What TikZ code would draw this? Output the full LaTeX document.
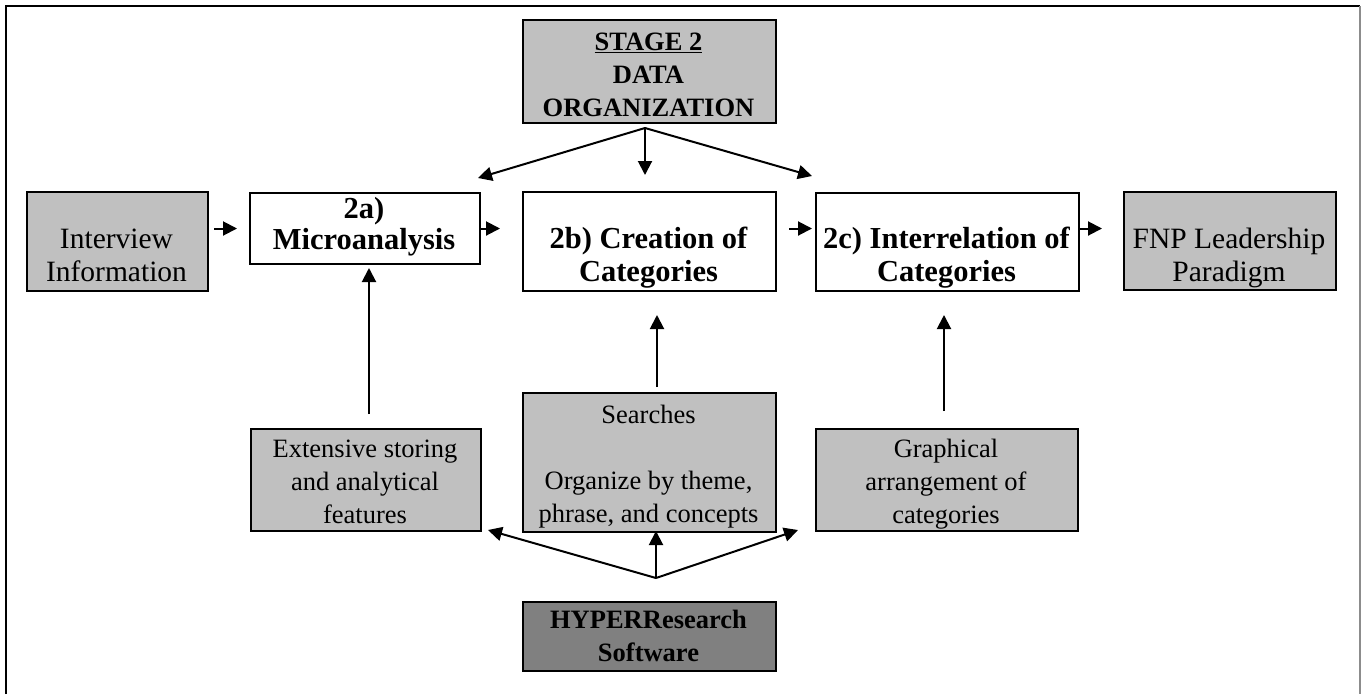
\documentclass[tikz,border=0pt]{standalone}
\usepackage{fontspec}
\setmainfont{Liberation Serif}
\usetikzlibrary{arrows.meta}
\definecolor{boxgray}{HTML}{C0C0C0}
\definecolor{toolgray}{HTML}{808080}
\definecolor{framegray}{HTML}{8C8C8C}
\begin{document}
\begin{tikzpicture}[x=1pt,y=-1pt,
  box/.style={draw, line width=2pt, inner sep=0pt, anchor=north west},
  txt/.style={anchor=north, inner sep=0pt, align=center,
              font=\fontsize{26.5pt}{33pt}\selectfont},
  btxt/.style={txt, font=\fontsize{26.5pt}{33pt}\selectfont\bfseries},
  bigtxt/.style={txt, font=\fontsize{29.5pt}{33.5pt}\selectfont},
  bigbtxt/.style={txt, font=\fontsize{30.5pt}{33.5pt}\selectfont\bfseries},
  arr/.style={-{Triangle[length=14pt,width=14pt]}, line width=2pt}]
\useasboundingbox (0,0) rectangle (1362,694);

% outer frame (bottom edge runs off the page)
\draw[line width=2.2pt] (6,694) -- (6,6) -- (1360,6);
\draw[framegray, line width=2pt] (1360,6) -- (1360,694);

% boxes
\node[box, fill=boxgray, minimum width=253pt, minimum height=103pt] (stage) at (522,19) {};
\node[box, fill=boxgray, minimum width=181pt, minimum height=99pt] (intv) at (26,191) {};
\node[box, fill=white, minimum width=230pt, minimum height=71pt] (micro) at (249,192) {};
\node[box, fill=white, minimum width=253pt, minimum height=99pt] (create) at (522,191) {};
\node[box, fill=white, minimum width=263pt, minimum height=98pt] (inter) at (815,192) {};
\node[box, fill=boxgray, minimum width=212pt, minimum height=98pt] (fnp) at (1123,191) {};
\node[box, fill=boxgray, minimum width=230pt, minimum height=102pt] (ext) at (250,428) {};
\node[box, fill=boxgray, minimum width=253pt, minimum height=139pt] (search) at (522,392) {};
\node[box, fill=boxgray, minimum width=262pt, minimum height=102pt] (graph) at (815,428) {};
\node[box, fill=toolgray, minimum width=253pt, minimum height=69pt] (hyper) at (522,601) {};

% texts (node top = first baseline minus the strut height)
\node[btxt] (stagetxt) at (648.5,26.9) {\strut\underline{STAGE 2}\\\strut DATA\\\strut ORGANIZATION};
\node[bigtxt] (intvtxt) at (116.5,224.55) {\strut Interview\\\strut Information};
\node[bigbtxt, font=\fontsize{30.5pt}{31pt}\selectfont\bfseries] (microtxt) at (364,196.3) {\strut 2a)\\\strut Microanalysis};
\node[bigbtxt] (createtxt) at (648.5,224.55) {\strut 2b) Creation of\\\strut Categories};
\node[bigbtxt] (intertxt) at (946.5,224.55) {\strut 2c) Interrelation of\\\strut Categories};
\node[bigtxt] (fnptxt) at (1229,224.55) {\strut FNP Leadership\\\strut Paradigm};
\node[txt] (exttxt) at (365,433.9) {\strut Extensive storing\\\strut and analytical\\\strut features};
\node[txt] (searchtxt) at (648.5,399.9) {\strut Searches\\\strut\\\strut Organize by theme,\\\strut phrase, and concepts};
\node[txt] (graphtxt) at (946,433.9) {\strut Graphical\\\strut arrangement of\\\strut categories};
\node[btxt] (hypertxt) at (648.5,605.4) {\strut HYPERResearch\\\strut Software};

% fan-out from the stage box
\coordinate (tophub) at (645,128);
\coordinate (tipA) at (478,178);
\coordinate (tipB) at (645,175);
\coordinate (tipC) at (812,176);
\draw[arr] (tophub) -- (tipA);
\draw[arr] (tophub) -- (tipB);
\draw[arr] (tophub) -- (tipC);

% process chain
\draw[arr] ([xshift=5pt]intv.east |- micro.west) -- ([xshift=-12pt]micro.west);
\draw[arr] (micro.east) -- ([xshift=-22pt]create.west |- micro.east);
\draw[arr] ([xshift=12pt]create.east |- micro.east) -- ([xshift=-3pt]inter.west |- micro.east);
\draw[arr] (inter.east |- micro.east) -- ([xshift=-21pt]fnp.west |- micro.east);

% software features feeding each step
\draw[arr] ([xshift=3pt,yshift=14pt]ext.north) -- ([xshift=4pt,yshift=-3pt]micro.south);
\draw[arr] ([xshift=7.5pt,yshift=5pt]search.north) -- ([xshift=7.5pt,yshift=-23pt]create.south);
\draw[arr] ([xshift=-3pt,yshift=17pt]graph.north) -- ([xshift=-3.5pt,yshift=-23pt]inter.south);

% fan-out from the software box
\coordinate (bothub) at (656,578);
\coordinate (tipD) at (488,530);
\coordinate (tipE) at (656,531);
\coordinate (tipF) at (798,530);
\draw[arr] (bothub) -- (tipD);
\draw[arr] (bothub) -- (tipE);
\draw[arr] (bothub) -- (tipF);
\end{tikzpicture}
\end{document}
